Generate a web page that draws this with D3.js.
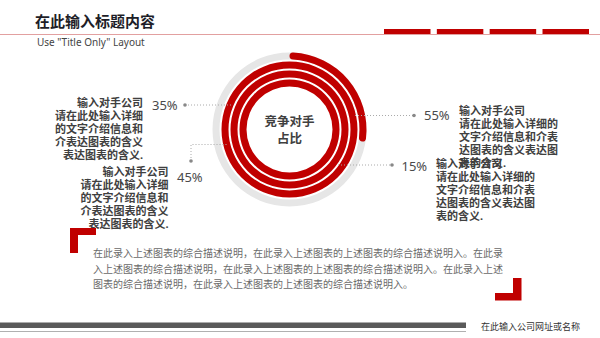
<!DOCTYPE html>
<meta charset="utf-8">
<head>
    <title>竞争对手占比</title>
</head>
<style>
    body { margin: 0; background: #fff; }
    svg text { font-family: "Noto Sans", "Noto Sans CJK SC", sans-serif; }
    .leader { fill: none; stroke: #aaa; stroke-width: 1; stroke-dasharray: 1,2; }
    .callout { font-size: 11px; font-weight: bold; fill: #404040; }
    .pct { font-size: 13px; fill: #4a4a4a; }
    .desc { font-size: 10px; fill: #6a6a6a; }
</style>
<script src="https://d3js.org/d3.v7.min.js"></script>
<div id="chart"></div>
<script>
    // ---- data ----
    var ringNames = ["对手A", "对手B", "对手C", "对手D"];
    var ringFill = [0.276, 1, 1, 1];          // share of each ring drawn in red
    var pctLabels = ["35%", "45%", "55%", "15%"];
    var calloutLeft = ["输入对手公司", "请在此处输入详细", "的文字介绍信息和", "介表达图表的含义", "表达图表的含义."];
    var calloutRight = ["输入对手公司", "请在此处输入详细的", "文字介绍信息和介表", "达图表的含义表达图", "表的含义."];
    var descLines = [
        "在此录入上述图表的综合描述说明，在此录入上述图表的上述图表的综合描述说明入。在此录",
        "入上述图表的综合描述说明，在此录入上述图表的上述图表的综合描述说明入。在此录入上述",
        "图表的综合描述说明，在此录入上述图表的上述图表的综合描述说明入。"
    ];
    var centerLines = ["竞争对手", "占比"];
    var headerBars = [0, 1, 2, 3];

    var W = 600, H = 338;
    var red = "#c00000";

    var svg = d3.select("#chart").append("svg")
        .attr("width", W).attr("height", H);

    // header
    svg.append("text").attr("x", 35).attr("y", 27)
        .style("font-size", "15px").style("font-weight", "bold").attr("fill", "#1e1e28")
        .text("在此输入标题内容");
    svg.append("line").attr("x1", 0).attr("x2", W).attr("y1", 34.5).attr("y2", 34.5)
        .attr("stroke", "#e2a0a0").attr("stroke-width", 1);
    svg.append("text").attr("x", 37).attr("y", 45.5)
        .style("font-size", "10px").attr("fill", "#444")
        .text('Use "Title Only" Layout');

    var bx = d3.scaleBand().domain(headerBars).range([384, 589]).paddingInner(0.12);
    svg.selectAll(".hbar").data(headerBars).enter().append("rect")
        .attr("x", function (d) { return bx(d); })
        .attr("y", 29).attr("width", bx.bandwidth()).attr("height", 5)
        .attr("fill", red);

    // ring chart
    var cx = 289.5, cy = 129.5;
    var g = svg.append("g").attr("transform", "translate(" + cx + "," + cy + ")");

    // leader lines (drawn under the rings)
    var leaders = [
        { pts: [[185, 105], [232, 105]], dot: [185, 105] },
        { pts: [[191, 161], [191, 144.5], [228, 144.5]], dot: [191, 161] },
        { pts: [[355, 115.5], [414, 115.5]], dot: [414, 115.5] },
        { pts: [[338, 165], [392, 165]], dot: [392, 165] }
    ];
    leaders.forEach(function (l) {
        svg.append("path").attr("class", "leader")
            .attr("d", d3.line()(l.pts));
        svg.append("circle").attr("cx", l.dot[0]).attr("cy", l.dot[1])
            .attr("r", 1.8).attr("fill", "#888");
    });

    var r = d3.scaleBand().domain(d3.range(ringNames.length)).range([77, 43]).paddingInner(0.22);
    var angle = d3.scaleLinear().domain([0, 1]).range([0, 2 * Math.PI]);

    // grey track for outer ring
    g.append("path")
        .attr("d", d3.arc()({ innerRadius: r(0), outerRadius: r(0) + r.bandwidth(), startAngle: 0, endAngle: 2 * Math.PI }))
        .attr("fill", "#e6e6e6");

    g.selectAll(".ring").data(ringFill).enter().append("path")
        .attr("class", "ring")
        .attr("fill", red)
        .attr("d", function (d, i) {
            return d3.arc()
                .innerRadius(r(i)).outerRadius(r(i) + r.bandwidth())
                .cornerRadius(d < 1 ? 3.5 : 0)
                .startAngle(0).endAngle(angle(d))();
        });

    g.selectAll(".ctr").data(centerLines).enter().append("text")
        .attr("x", 0).attr("y", function (d, i) { return -3.5 + i * 17; })
        .attr("text-anchor", "middle")
        .style("font-size", "12.5px").style("font-weight", "bold").attr("fill", "#404040")
        .text(function (d) { return d; });

    // percentage labels
    var pctPos = [[152, 109.5], [177, 182], [424, 120], [401.5, 170.5]];
    svg.selectAll(".pct").data(pctLabels).enter().append("text")
        .attr("class", "pct")
        .attr("x", function (d, i) { return pctPos[i][0]; })
        .attr("y", function (d, i) { return pctPos[i][1]; })
        .text(function (d) { return d; });

    // callout text blocks
    function block(lines, x, y, anchor) {
        svg.append("g").selectAll("text").data(lines).enter().append("text")
            .attr("class", "callout")
            .attr("x", x).attr("y", function (d, i) { return y + i * 13.2; })
            .attr("text-anchor", anchor)
            .text(function (d) { return d; });
    }
    block(calloutLeft, 143, 106.5, "end");
    block(calloutLeft, 168.5, 175.5, "end");
    block(calloutRight, 459, 114.5, "start");
    block(calloutRight, 436, 167.5, "start");

    // corner brackets
    svg.append("path").attr("fill", red)
        .attr("d", "M70,228H96V235H78V253H70Z");
    svg.append("path").attr("fill", red)
        .attr("d", "M513,278H521.5V300.5H495V293H513Z");

    // description
    svg.selectAll(".desc").data(descLines).enter().append("text")
        .attr("class", "desc")
        .attr("x", 93).attr("y", function (d, i) { return 257 + i * 15.5; })
        .text(function (d) { return d; });

    // footer
    svg.append("rect").attr("x", 0).attr("y", 322.5).attr("width", 466).attr("height", 5.5).attr("fill", "#5a5a5a");
    svg.append("line").attr("x1", 0).attr("x2", 466).attr("y1", 331.5).attr("y2", 331.5)
        .attr("stroke", "#b0b0b0").attr("stroke-width", 1);
    svg.append("text").attr("x", 481).attr("y", 329.5)
        .style("font-size", "9px").attr("fill", "#333")
        .text("在此输入公司网址或名称");
</script>
